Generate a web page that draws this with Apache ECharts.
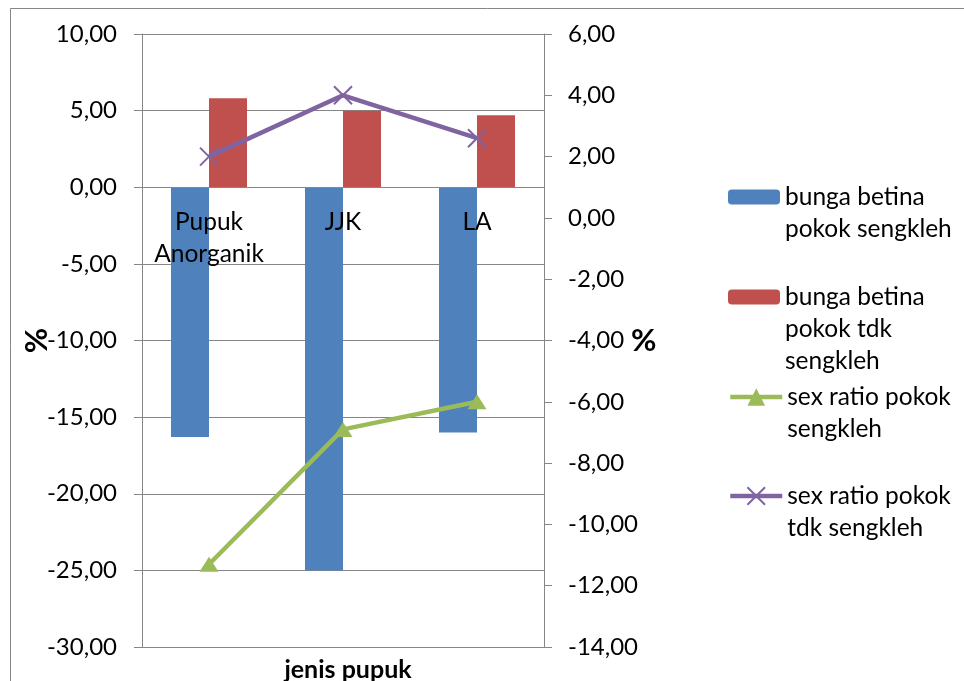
<!DOCTYPE html>
<html>
<head>
<meta charset="utf-8">
<script src="https://cdn.jsdelivr.net/npm/echarts@6/dist/echarts.min.js"></script>
<style>
  html, body { margin: 0; padding: 0; background: #fff; }
  #chart { width: 964px; height: 681px; }
</style>
</head>
<body>
<div id="chart"></div>
<script>
// Fertiliser types on the category axis
const categories = ['Pupuk Anorganik', 'JJK', 'LA'];

// Bars, left axis (%)
const bungaBetinaSengkleh = [-16.3, -25.0, -16.0];
const bungaBetinaTdkSengkleh = [5.8, 5.0, 4.7];

// Lines, right axis (%)
const sexRatioSengkleh = [-11.3, -6.9, -6.0];
const sexRatioTdkSengkleh = [2.0, 4.0, 2.6];

const seriesNames = [
  'bunga betina pokok sengkleh',
  'bunga betina pokok tdk sengkleh',
  'sex ratio pokok sengkleh',
  'sex ratio pokok tdk sengkleh'
];
// wrapped legend text, one entry per series
const legendLines = [
  ['bunga betina', 'pokok sengkleh'],
  ['bunga betina', 'pokok tdk', 'sengkleh'],
  ['sex ratio pokok', 'sengkleh'],
  ['sex ratio pokok', 'tdk sengkleh']
];

const FONT = 'Lato';
const GRID = '#868686';
const fmt = v => v.toFixed(2).replace('.', ',');

// plot box and left-axis range; the category axis sits at the zero line
const GRID_TOP = 34, GRID_BOTTOM = 34, CHART_H = 681;
const LEFT_MIN = -30, LEFT_MAX = 10;
const plotH = CHART_H - GRID_TOP - GRID_BOTTOM;
const zeroFromBottom = plotH * (0 - LEFT_MIN) / (LEFT_MAX - LEFT_MIN);

const chart = echarts.init(document.getElementById('chart'));

// One legend block per series. The icon is centred on the text block, so
// blank lines are added above the text to keep the icon beside its first line.
const LINE_H = 32;
const iconCentres = [197, 297, 397, 496];
const legends = seriesNames.map((name, i) => {
  const lines = legendLines[i];
  const pad = lines.length - 1;
  const text = '\n'.repeat(pad) + lines.join('\n');
  const blockH = (pad + lines.length) * LINE_H;
  const isLine = i >= 2;
  return {
    data: [name],
    left: 723,
    top: iconCentres[i] - blockH / 2 - 5,
    itemWidth: 52,
    itemHeight: isLine ? 22 : 15,
    itemGap: 0,
    selectedMode: false,
    formatter: () => text,
    lineStyle: { width: 'inherit' },
    textStyle: {
      fontFamily: FONT,
      fontSize: 24.5,
      color: '#000',
      lineHeight: LINE_H
    }
  };
});

chart.setOption({
  animation: false,
  textStyle: { fontFamily: FONT },
  title: {
    text: 'jenis pupuk',
    left: 343,
    top: 652,
    textAlign: 'center',
    textStyle: { fontFamily: FONT, fontSize: 25, fontWeight: 'bold', color: '#000' }
  },
  graphic: [{
    type: 'rect',
    shape: { x: 10.5, y: 8.5, width: 1000, height: 1000 },
    style: { fill: 'none', stroke: GRID, lineWidth: 1 },
    silent: true,
    z: -10
  }],
  legend: legends,
  grid: { left: 142, right: 420, top: GRID_TOP, bottom: GRID_BOTTOM, containLabel: false, outerBoundsMode: 'none' },
  xAxis: {
    type: 'category',
    data: categories,
    position: 'bottom',
    offset: -zeroFromBottom,
    z: 10,
    axisLine: { onZero: false, lineStyle: { color: GRID, width: 1 } },
    axisTick: { show: false },
    axisLabel: {
      color: '#000',
      fontSize: 24.5,
      lineHeight: 32,
      margin: 19,
      interval: 0,
      formatter: v => v.replace(' ', '\n')
    }
  },
  yAxis: [{
    type: 'value',
    min: LEFT_MIN,
    max: LEFT_MAX,
    interval: 5,
    name: '%',
    nameLocation: 'middle',
    nameGap: 90,
    nameMoveOverlap: false,
    nameTextStyle: { fontSize: 31, fontWeight: 'bold', color: '#000' },
    axisLine: { show: true, lineStyle: { color: GRID, width: 1 } },
    axisTick: { show: true, length: 8, lineStyle: { color: GRID } },
    axisLabel: { color: '#000', fontSize: 24, margin: 25, formatter: fmt },
    splitLine: { show: true, lineStyle: { color: GRID, width: 1 } }
  }, {
    type: 'value',
    min: -14,
    max: 6,
    interval: 2,
    name: '%',
    nameLocation: 'middle',
    nameRotate: 0,
    nameGap: 87,
    nameMoveOverlap: false,
    nameTextStyle: { fontSize: 31, fontWeight: 'bold', color: '#000', align: 'left' },
    axisLine: { show: true, lineStyle: { color: GRID, width: 1 } },
    axisTick: { show: true, length: 8, lineStyle: { color: GRID } },
    axisLabel: { color: '#000', fontSize: 24, margin: 24, formatter: fmt },
    splitLine: { show: false }
  }],
  series: [{
    name: seriesNames[0],
    type: 'bar',
    yAxisIndex: 0,
    data: bungaBetinaSengkleh,
    barWidth: 38,
    barGap: '0%',
    itemStyle: { color: '#4F81BD' }
  }, {
    name: seriesNames[1],
    type: 'bar',
    yAxisIndex: 0,
    data: bungaBetinaTdkSengkleh,
    barWidth: 38,
    barGap: '0%',
    itemStyle: { color: '#C0504D' }
  }, {
    name: seriesNames[2],
    type: 'line',
    yAxisIndex: 1,
    data: sexRatioSengkleh,
    symbol: 'triangle',
    symbolSize: [19, 15],
    lineStyle: { color: '#9BBB59', width: 4.5 },
    itemStyle: { color: '#9BBB59' },
    z: 5
  }, {
    name: seriesNames[3],
    type: 'line',
    yAxisIndex: 1,
    data: sexRatioTdkSengkleh,
    symbol: 'path://M0,0L10,10M10,0L0,10',
    symbolSize: 18,
    lineStyle: { color: '#8064A2', width: 4.5 },
    itemStyle: { color: '#8064A2', borderColor: '#8064A2', borderWidth: 2 },
    z: 5
  }]
});
</script>
</body>
</html>
